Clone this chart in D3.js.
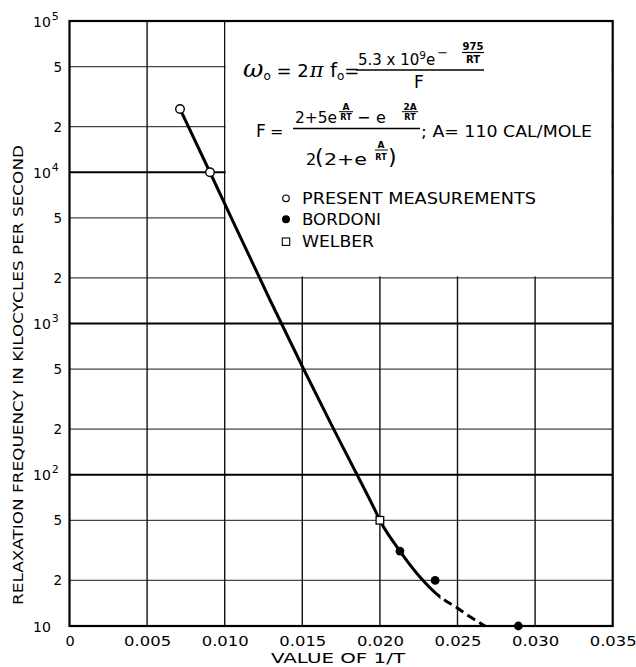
<!DOCTYPE html>
<html><head><meta charset="utf-8">
<script src="https://cdn.jsdelivr.net/npm/d3@7"></script>
<style>body{margin:0;background:#fff}svg{display:block}</style>
</head><body>
<svg id="c" width="636" height="667"></svg>
<script>
// ---- data ----
const xTicks = [0, 0.005, 0.010, 0.015, 0.020, 0.025, 0.030, 0.035];
const xTickLabels = ["0", "0.005", "0.010", "0.015", "0.020", "0.025", "0.030", "0.035"];
const yDecades = [10, 100, 1000, 10000, 100000];
const yDecadeExp = ["", "2", "3", "4", "5"];
const yMinor = [20, 50, 200, 500, 2000, 5000, 20000, 50000];
const yMinorLabels = ["2", "5", "2", "5", "2", "5", "2", "5"];

const presentX = [0.00712, 0.00905];
const presentY = [26200, 10000];
const bordoniX = [0.02129, 0.02356, 0.02892];
const bordoniY = [31.3, 20, 10];
const welberX = [0.0200];
const welberY = [50];

const curveX = [0.00712, 0.00905, 0.01292, 0.01505, 0.01698, 0.01853, 0.01968, 0.0200, 0.02129, 0.02258, 0.02387, 0.02497, 0.02581, 0.02677];
const curveY = [26200, 10000, 1430, 508, 204, 100, 58.5, 50, 31.3, 21.1, 15.6, 13.2, 11.5, 10];
const dashStartX = 0.0239;

// ---- layout ----
const svg = d3.select("#c");
const L = 69.5, R = 612.7, T = 21, B = 626;
const x = d3.scaleLinear().domain([0, 0.035]).range([L, R]);
const y = d3.scaleLog().domain([10, 1e5]).range([B, T]);
const font = "DejaVu Sans, Verdana, sans-serif";
const ink = "#000";

// minor horizontal gridlines
svg.append("g").selectAll("line").data(yMinor).join("line")
  .attr("x1", L).attr("x2", R).attr("y1", d => y(d)).attr("y2", d => y(d))
  .attr("stroke", "#444").attr("stroke-width", 1.2);
// vertical gridlines
svg.append("g").selectAll("line").data(xTicks.slice(1, -1)).join("line")
  .attr("x1", d => x(d)).attr("x2", d => x(d)).attr("y1", T).attr("y2", B)
  .attr("stroke", "#111").attr("stroke-width", 1.4);
// decade lines
svg.append("g").selectAll("line").data(yDecades.slice(1, -1)).join("line")
  .attr("x1", L).attr("x2", R).attr("y1", d => y(d)).attr("y2", d => y(d))
  .attr("stroke", "#000").attr("stroke-width", 2);

// white panel behind formula / legend
svg.append("rect").attr("x", x(0.010) + 1).attr("y", T + 1)
  .attr("width", R - x(0.010) - 2).attr("height", y(2000) - T - 2.5).attr("fill", "#fff");

// frame
svg.append("rect").attr("x", L).attr("y", T).attr("width", R - L).attr("height", B - T)
  .attr("fill", "none").attr("stroke", "#000").attr("stroke-width", 2.2);

// x axis labels
const xAxis = d3.axisBottom(x).tickValues(xTicks).tickSize(0).tickFormat((d, i) => xTickLabels[i]);
const gx = svg.append("g").attr("transform", `translate(0,${B})`).call(xAxis);
gx.select(".domain").remove();
gx.selectAll("text").attr("font-family", font).attr("font-size", 14.5).attr("fill", ink)
  .attr("dy", null).attr("y", 20)
  .each(function (d, i) { if (i > 0) d3.select(this).attr("textLength", 47).attr("lengthAdjust", "spacingAndGlyphs"); });

// y axis labels
const yAxis = d3.axisLeft(y).tickValues(yDecades).tickSize(0).tickFormat("");
const gy = svg.append("g").attr("transform", `translate(${L},0)`).call(yAxis);
gy.select(".domain").remove();
gy.selectAll(".tick").each(function (d, i) {
  const t = d3.select(this).append("text").attr("x", 33 - L).attr("y", 5)
    .attr("text-anchor", "start").attr("font-family", font).attr("font-size", 14).attr("fill", ink);
  t.append("tspan").text("10");
  if (yDecadeExp[i]) t.append("tspan").text(yDecadeExp[i]).attr("font-size", 11).attr("dy", -7).attr("dx", 1);
});
svg.append("g").selectAll("text").data(yMinor).join("text")
  .attr("x", 62).attr("y", d => y(d) + 5).attr("text-anchor", "end")
  .attr("font-family", font).attr("font-size", 13.5).attr("fill", ink)
  .text((d, i) => yMinorLabels[i]);

// axis titles
svg.append("text").attr("transform", "translate(23,375) rotate(-90)")
  .attr("text-anchor", "middle").attr("font-family", font).attr("font-size", 14.5).attr("fill", ink)
  .attr("textLength", 460).attr("lengthAdjust", "spacingAndGlyphs")
  .text("RELAXATION FREQUENCY IN KILOCYCLES PER SECOND");
svg.append("text").attr("x", 338).attr("y", 663).attr("text-anchor", "middle")
  .attr("font-family", font).attr("font-size", 14).attr("fill", ink)
  .attr("textLength", 134).attr("lengthAdjust", "spacingAndGlyphs").text("VALUE OF 1/T");

// curve
const pts = curveX.map((v, i) => [v, curveY[i]]);
const line = d3.line().x(d => x(d[0])).y(d => y(d[1])).curve(d3.curveMonotoneX);
const defs = svg.append("defs");
defs.append("clipPath").attr("id", "solidClip").append("rect")
  .attr("x", 0).attr("y", 0).attr("width", x(dashStartX)).attr("height", 667);
defs.append("clipPath").attr("id", "dashClip").append("rect")
  .attr("x", x(dashStartX)).attr("y", 0).attr("width", 636).attr("height", B - 0.5);
svg.append("path").attr("d", line(pts)).attr("fill", "none").attr("stroke", "#000")
  .attr("stroke-width", 3).attr("clip-path", "url(#solidClip)");
svg.append("path").attr("d", line(pts)).attr("fill", "none").attr("stroke", "#000")
  .attr("stroke-width", 3).attr("stroke-dasharray", "9,5").attr("stroke-dashoffset", 0)
  .attr("clip-path", "url(#dashClip)");

// markers
svg.append("g").selectAll("circle").data(presentX).join("circle")
  .attr("cx", d => x(d)).attr("cy", (d, i) => y(presentY[i])).attr("r", 4.3)
  .attr("fill", "#fff").attr("stroke", "#000").attr("stroke-width", 1.4);
svg.append("g").selectAll("circle").data(bordoniX).join("circle")
  .attr("cx", d => x(d)).attr("cy", (d, i) => y(bordoniY[i])).attr("r", 4.4).attr("fill", "#000");
svg.append("g").selectAll("rect").data(welberX).join("rect")
  .attr("x", d => x(d) - 3.8).attr("y", (d, i) => y(welberY[i]) - 3.8)
  .attr("width", 7.6).attr("height", 7.6).attr("fill", "#fff").attr("stroke", "#000").attr("stroke-width", 1.3);

// formula
const fg = svg.append("g").attr("fill", ink).attr("font-family", font);
function t(xx, yy, s, size, o = {}) {
  const e = fg.append("text").attr("x", xx).attr("y", yy).attr("font-size", size).text(s);
  if (o.anchor) e.attr("text-anchor", o.anchor);
  if (o.italic) e.attr("font-style", "italic");
  if (o.serif) e.attr("font-family", "DejaVu Serif, serif");
  if (o.bold) e.attr("font-weight", "bold");
  if (o.len) e.attr("textLength", o.len).attr("lengthAdjust", "spacingAndGlyphs");
  return e;
}
function bar(x1, x2, yy, w = 1.3) {
  fg.append("line").attr("x1", x1).attr("x2", x2).attr("y1", yy).attr("y2", yy)
    .attr("stroke", ink).attr("stroke-width", w);
}
// line 1
const l1 = fg.append("text").attr("x", 243).attr("y", 77).attr("font-size", 18);
l1.append("tspan").text("ω").attr("font-family", "DejaVu Serif, serif").attr("font-style", "italic").attr("font-size", 25);
l1.append("tspan").text("o").attr("font-size", 12).attr("dy", 3);
l1.append("tspan").text(" = 2").attr("dy", -3);
l1.append("tspan").text("π").attr("font-family", "DejaVu Serif, serif").attr("font-style", "italic").attr("font-size", 21).attr("dx", 1);
l1.append("tspan").text(" f").attr("font-size", 20);
l1.append("tspan").text("o").attr("font-size", 12).attr("dy", 3);
l1.append("tspan").text("=").attr("dy", -3);
const num = fg.append("text").attr("x", 358).attr("y", 65).attr("font-size", 15);
num.append("tspan").text("5.3 x 10");
num.append("tspan").text("9").attr("font-size", 10.5).attr("dy", -6);
num.append("tspan").text("e").attr("dy", 6);
num.append("tspan").text("−").attr("font-size", 13).attr("dy", -8).attr("dx", 2);
t(473, 50, "975", 10, { anchor: "middle", bold: true });
bar(462, 484, 52.5, 1.2);
t(473, 63, "RT", 10, { anchor: "middle", bold: true });
bar(356, 484, 70, 1.4);
t(419, 88, "F", 17, { anchor: "middle" });
// line 2
t(256, 137, "F", 17);
t(270, 137, "=", 16);
t(295, 123, "2+5e", 16, { len: 42 });
t(346, 110, "A", 9, { anchor: "middle", bold: true });
bar(339, 353, 111.7, 1);
t(346, 120, "RT", 8, { anchor: "middle", bold: true });
t(357, 123, "−", 16);
t(376, 123, "e", 16);
t(410, 110, "2A", 9, { anchor: "middle", bold: true });
bar(402, 418, 111.7, 1);
t(410, 120, "RT", 8, { anchor: "middle", bold: true });
bar(293, 420, 128.5, 1.4);
t(306, 165, "2", 16);
t(315, 164, "(", 22);
t(324, 165, "2+e", 16, { len: 43 });
t(381, 148, "A", 9, { anchor: "middle", bold: true });
bar(375, 388, 150, 1);
t(381, 159.5, "RT", 8, { anchor: "middle", bold: true });
t(388, 164, ")", 22);
t(421, 137, "; A= 110 CAL/MOLE", 16.5, { len: 171 });

// legend
const lg = svg.append("g");
lg.append("circle").attr("cx", 286).attr("cy", 198.3).attr("r", 3.3).attr("fill", "#fff").attr("stroke", "#000").attr("stroke-width", 1.2);
lg.append("circle").attr("cx", 286).attr("cy", 219.3).attr("r", 4).attr("fill", "#000");
lg.append("rect").attr("x", 282.3).attr("y", 238).attr("width", 7.4).attr("height", 7.4).attr("fill", "#fff").attr("stroke", "#000").attr("stroke-width", 1.1);
const legText = [["PRESENT MEASUREMENTS", 204, 234], ["BORDONI", 225, 79], ["WELBER", 247, 72]];
lg.selectAll("text").data(legText).join("text")
  .attr("x", 302).attr("y", d => d[1]).attr("font-family", font).attr("font-size", 15).attr("fill", ink)
  .attr("textLength", d => d[2]).attr("lengthAdjust", "spacingAndGlyphs").text(d => d[0]);
</script>
</body></html>
